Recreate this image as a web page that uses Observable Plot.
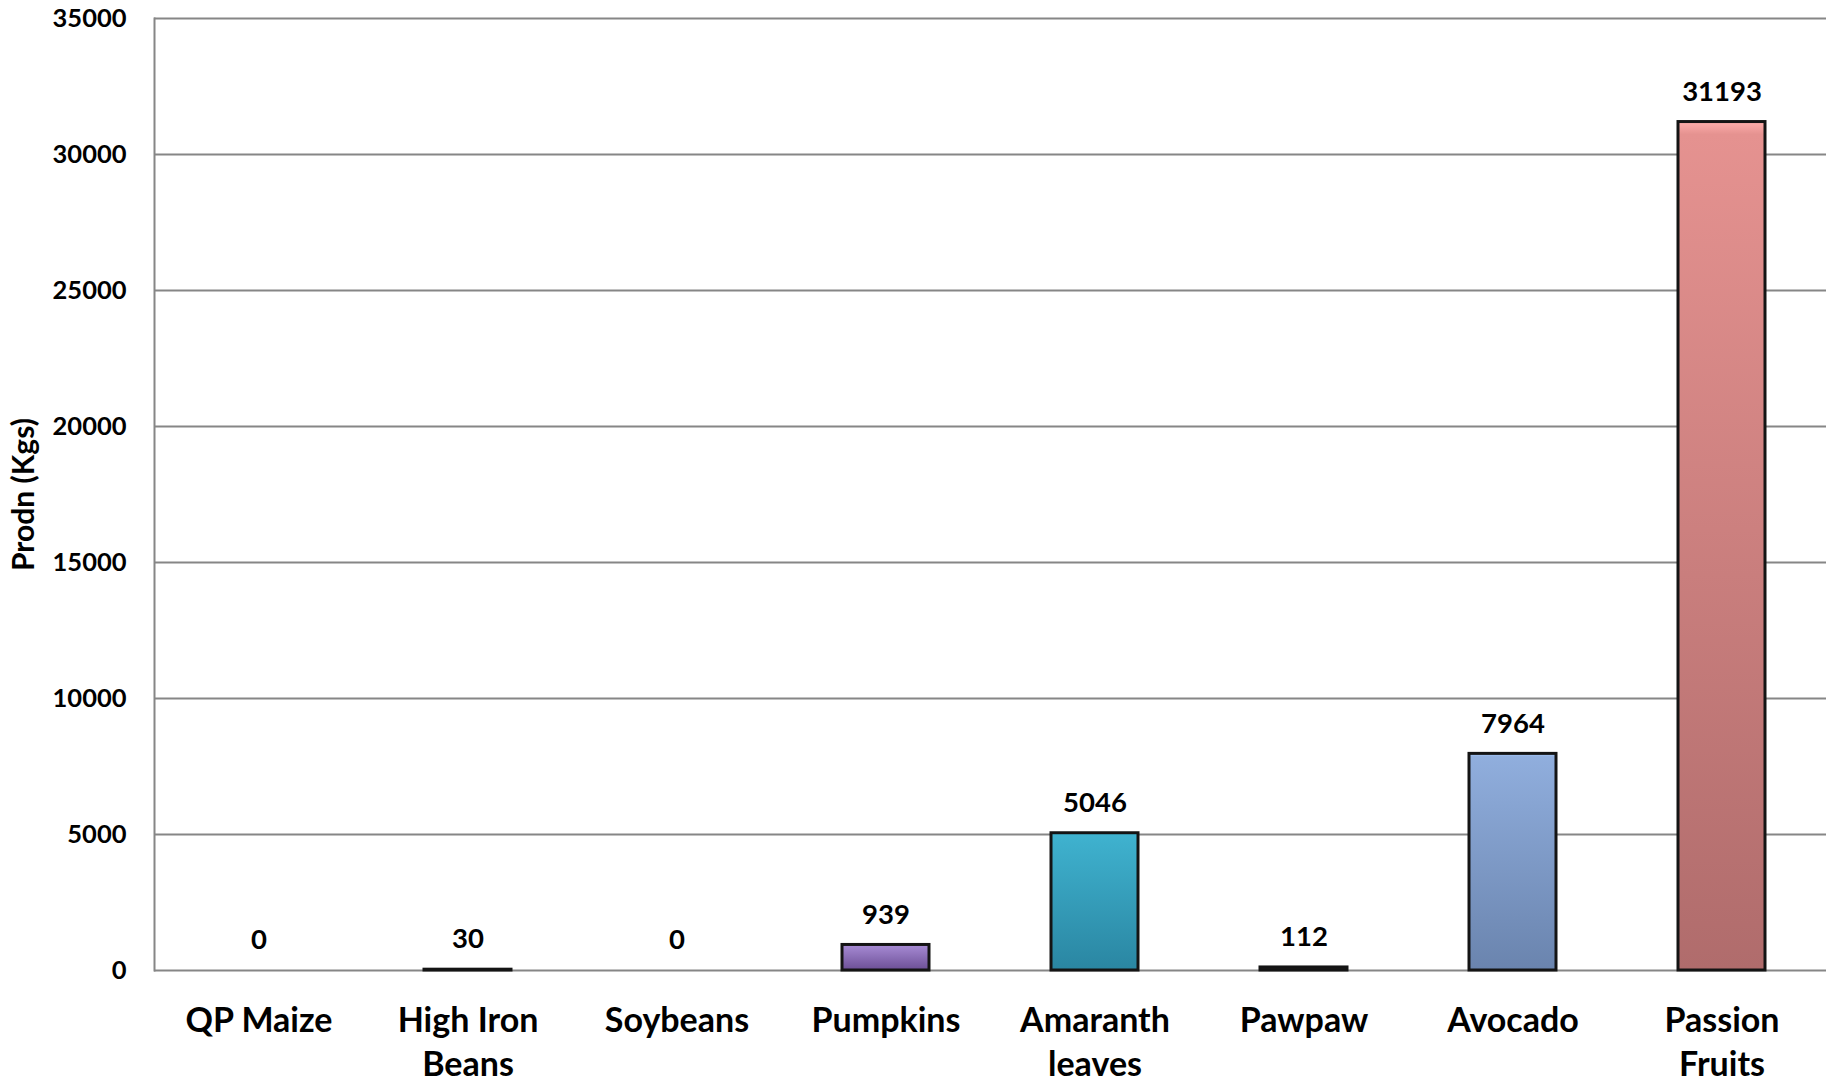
<!DOCTYPE html>
<html>
<head>
<meta charset="utf-8">
<script src="https://cdn.jsdelivr.net/npm/d3@7"></script>
<script src="https://cdn.jsdelivr.net/npm/@observablehq/plot@0.6"></script>
<style>
  html, body { margin: 0; padding: 0; background: #fff; }
  #chart { width: 1837px; height: 1082px; overflow: hidden; }
</style>
</head>
<body>
<div id="chart"></div>
<script>
// ---- data ----
const categories = ["QP Maize", "High Iron Beans", "Soybeans", "Pumpkins", "Amaranth leaves", "Pawpaw", "Avocado", "Passion Fruits"];
const categoryLabels = ["QP Maize", "High Iron\nBeans", "Soybeans", "Pumpkins", "Amaranth\nleaves", "Pawpaw", "Avocado", "Passion\nFruits"];
const values = [0, 30, 0, 939, 5046, 112, 7964, 31193];
const yTicks = [0, 5000, 10000, 15000, 20000, 25000, 30000, 35000];
const yTitle = "Prodn (Kgs)";

// ---- styling ----
const topColors = ["#6f93c8", "#8a6a68", "#a9c36e", "#a78bd4", "#3fb2cf", "#6a5a48", "#90aedd", "#e59290"];
const bottomColors = ["#3f6496", "#5a3e3c", "#76903f", "#6c4f96", "#2a86a2", "#4a3a28", "#6a84ae", "#b06c6c"];

const rows = categories.map((c, i) => ({cat: c, label: categoryLabels[i], value: values[i], grad: `url(#grad${i})`}));
const labelOf = new Map(rows.map(d => [d.cat, d.label]));

const svg = Plot.plot({
  width: 1837,
  height: 1082,
  marginLeft: 154,
  marginRight: 11,
  marginTop: 18,
  marginBottom: 112,
  style: {fontFamily: "Lato, 'Open Sans', sans-serif", color: "#000", background: "#fff"},
  x: {domain: categories, paddingInner: 0.584, paddingOuter: 0.292, align: 0.5},
  y: {domain: [0, 35000]},
  color: {type: "identity"},
  marks: [
    Plot.gridY(yTicks, {stroke: "#868686", strokeOpacity: 1, strokeWidth: 2}),
    Plot.frame({anchor: "left", stroke: "#868686", strokeWidth: 2}),
    Plot.barY(rows.filter(d => d.value > 0), {x: "cat", y: "value", fill: "grad", stroke: "#141414", strokeWidth: 3}),
    Plot.text(rows, {x: "cat", y: "value", text: d => String(d.value), dy: -30, fontSize: 27.5, fontWeight: "bold", fill: "#000"}),
    Plot.axisY(yTicks, {tickSize: 0, tickPadding: 28, fontSize: 25.5, fontWeight: "bold", tickFormat: d => String(d),
      label: yTitle, labelAnchor: "center", labelArrow: "none", labelOffset: 142}),
    Plot.axisX({tickSize: 0, tickPadding: 30, fontSize: 34, fontWeight: "bold", lineHeight: 1.3,
      tickFormat: d => labelOf.get(d), label: null})
  ]
});

// gradient definitions for the bar fills
const defs = d3.select(svg).insert("defs", ":first-child");
categories.forEach((c, i) => {
  const g = defs.append("linearGradient").attr("id", `grad${i}`).attr("x1", 0).attr("y1", 0).attr("x2", 0).attr("y2", 1);
  g.append("stop").attr("offset", "0%").attr("stop-color", d3.color(topColors[i]).brighter(0.5));
  g.append("stop").attr("offset", "1.5%").attr("stop-color", topColors[i]);
  g.append("stop").attr("offset", "100%").attr("stop-color", bottomColors[i]);
});
// y-axis title styling
d3.select(svg).selectAll("text").filter(function() { return this.textContent === yTitle; })
  .attr("font-size", 30).attr("font-weight", "bold");

document.getElementById("chart").appendChild(svg);
</script>
</body>
</html>
